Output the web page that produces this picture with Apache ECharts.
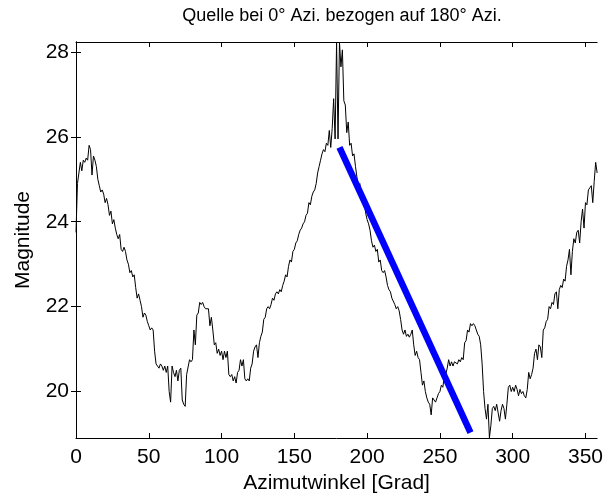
<!DOCTYPE html>
<html><head><meta charset="utf-8">
<script src="https://cdn.jsdelivr.net/npm/echarts@6/dist/echarts.min.js"></script>
<style>html,body{margin:0;padding:0;background:#fff}#c{width:606px;height:499px}</style>
</head><body><div id="c"></div><script>
const titleText = 'Quelle bei 0° Azi. bezogen auf 180° Azi.';
const xName = 'Azimutwinkel [Grad]';
const yName = 'Magnitude';
const xTicks = [0, 50, 100, 150, 200, 250, 300, 350];
const yTicks = [20, 22, 24, 26, 28];
const xRange = [0, 358];
const yRange = [18.905, 28.235];
const azimuth = [
0,1,2,3,4,5,6,7,8,9,10,11,12,13,14,15,16,17,18,19,20,21,22,23,24,25,26,27,28,29,
30,31,32,33,34,35,36,37,38,39,40,41,42,43,44,45,46,47,48,49,50,51,52,53,54,55,56,57,58,59,
60,61,62,63,64,65,66,67,68,69,70,71,72,73,74,75,76,77,78,79,80,81,82,83,84,85,86,87,88,89,
90,91,92,93,94,95,96,97,98,99,100,101,102,103,104,105,106,107,108,109,110,111,112,113,114,115,116,117,118,119,
120,121,122,123,124,125,126,127,128,129,130,131,132,133,134,135,136,137,138,139,140,141,142,143,144,145,146,147,148,149,
150,151,152,153,154,155,156,157,158,159,160,161,162,163,164,165,166,167,168,169,170,171,172,173,174,175,176,177,178,179,
180,181,182,183,184,185,186,187,188,189,190,191,192,193,194,195,196,197,198,199,200,201,202,203,204,205,206,207,208,209,
210,211,212,213,214,215,216,217,218,219,220,221,222,223,224,225,226,227,228,229,230,231,232,233,234,235,236,237,238,239,
240,241,242,243,244,245,246,247,248,249,250,251,252,253,254,255,256,257,258,259,260,261,262,263,264,265,266,267,268,269,
270,271,272,273,274,275,276,277,278,279,280,281,282,283,284,285,286,287,288,289,290,291,292,293,294,295,296,297,298,299,
300,301,302,303,304,305,306,307,308,309,310,311,312,313,314,315,316,317,318,319,320,321,322,323,324,325,326,327,328,329,
330,331,332,333,334,335,336,337,338,339,340,341,342,343,344,345,346,347,348,349,350,351,352,353,354,355,356,357,358];
const magnitude = [
23.75,24.9,25.15,25.4,25.2,25.45,25.4,25.5,25.45,25.8,
25.7,25.1,25.55,25.45,25.3,25.0,24.85,24.7,24.75,24.65,
24.45,24.55,24.4,24.15,24.25,23.95,24.05,23.85,23.7,23.6,
23.7,23.35,23.3,23.4,23.3,23.1,23.0,22.8,22.85,22.7,
22.75,22.45,22.2,22.3,22.15,22.0,21.75,21.85,21.8,21.65,
21.55,21.45,21.5,21.45,20.95,20.65,20.6,20.55,20.65,20.6,
20.5,20.6,20.45,20.6,20.0,19.75,20.6,20.45,20.35,20.5,
20.25,20.5,20.55,19.8,19.7,19.65,20.4,20.4,20.75,20.7,
20.75,21.45,21.1,21.8,21.85,22.1,22.05,22.1,22.0,21.95,
21.98,21.95,21.55,21.75,21.45,21.1,21.15,20.9,21.0,20.85,
20.95,20.75,20.95,20.8,20.95,20.4,20.35,20.4,20.25,20.35,
20.2,20.45,20.5,20.75,20.6,20.75,20.3,20.25,20.3,20.25,
20.55,20.65,20.95,21.05,21.1,20.8,21.15,21.3,21.4,21.7,
21.75,21.95,22.0,21.95,22.05,22.2,22.15,22.3,22.35,22.3,
22.4,22.35,22.5,22.6,22.75,22.7,22.95,23.1,23.05,23.3,
23.35,23.5,23.55,23.7,23.8,23.85,23.95,24.0,24.15,24.2,
24.45,24.4,24.6,24.7,24.75,24.9,25.15,25.3,25.45,25.6,
25.7,25.65,25.85,25.8,26.15,25.75,26.2,26.9,25.95,28.23,
25.95,28.23,27.65,28.05,26.85,26.75,26.1,26.35,25.8,25.85,
25.55,25.6,25.3,25.05,24.85,24.9,24.6,24.45,24.5,24.2,
24.05,23.95,23.8,23.55,23.4,23.45,23.3,23.35,23.05,23.1,
22.85,22.8,22.85,22.7,22.5,22.4,22.35,22.2,22.2,22.05,
21.95,22.0,21.9,21.7,21.45,21.35,21.45,21.3,21.35,21.28,
21.35,21.45,21.1,20.85,20.95,20.8,20.75,20.45,20.15,20.25,
20.0,19.85,19.75,19.7,19.45,19.85,19.8,19.75,19.85,19.95,
20.0,20.15,20.1,20.35,20.4,20.55,20.75,20.6,20.7,20.6,
20.7,20.7,20.65,20.75,20.7,20.8,20.75,21.15,21.2,21.45,
21.4,21.6,21.55,21.6,21.55,21.45,21.35,21.3,21.1,20.65,
20.0,19.6,19.35,19.7,18.91,19.2,19.6,19.65,19.55,19.7,
19.5,19.3,19.55,19.7,19.6,19.35,19.7,20.1,20.15,20.0,
20.1,20.0,20.15,20.05,19.9,20.05,19.95,20.0,19.9,19.85,
20.05,20.45,20.3,20.4,20.55,20.9,21.0,20.75,21.1,21.05,
20.8,21.45,21.5,21.65,21.7,22.0,21.95,22.1,22.05,22.3,
22.35,21.95,22.4,22.5,22.45,22.65,22.6,22.95,23.1,23.35,
22.75,23.3,23.6,23.5,23.75,23.8,23.5,24.0,24.3,23.85,
24.45,24.4,24.75,24.8,24.85,24.45,24.95,25.4,25.15];
const fitX = [181, 271];
const fitY = [25.75, 19.03];

const FONT = 'Liberation Sans, Arial, Helvetica, sans-serif';
const chart = echarts.init(document.getElementById('c'), null, {renderer: 'canvas'});
const axisLine = {show: true, lineStyle: {color: '#000', width: 1}};
const tickIn = (vals) => ({show: true, inside: true, length: 5, lineStyle: {color: '#000', width: 1}, customValues: vals});
chart.setOption({
  animation: false,
  backgroundColor: '#fff',
  title: {text: titleText, left: 337, top: 2, textAlign: 'center',
    textStyle: {fontFamily: FONT, fontSize: 18, fontWeight: 'normal', color: '#000'}},
  grid: {left: 76, top: 42, width: 522, height: 397, show: false},
  xAxis: [
    {type: 'value', min: xRange[0], max: xRange[1], position: 'bottom',
     axisLine, axisTick: tickIn(xTicks), splitLine: {show: false},
     axisLabel: {customValues: xTicks, margin: 9, fontFamily: FONT, fontSize: 21, color: '#000'},
     name: xName, nameLocation: 'middle', nameGap: 35,
     nameTextStyle: {fontFamily: FONT, fontSize: 21, color: '#000'}},
    {type: 'value', min: xRange[0], max: xRange[1], position: 'top',
     axisLine, axisTick: tickIn(xTicks), axisLabel: {show: false}, splitLine: {show: false}}
  ],
  yAxis: [
    {type: 'value', min: yRange[0], max: yRange[1], position: 'left',
     axisLine, axisTick: tickIn(yTicks), splitLine: {show: false},
     axisLabel: {customValues: yTicks, margin: 7, fontFamily: FONT, fontSize: 21, color: '#000'},
     name: yName, nameLocation: 'middle', nameGap: 42, nameRotate: 90,
     nameTextStyle: {fontFamily: FONT, fontSize: 21, color: '#000'}},
    {type: 'value', min: yRange[0], max: yRange[1], position: 'right',
     axisLine, axisTick: tickIn(yTicks), axisLabel: {show: false}, splitLine: {show: false}}
  ],
  series: [
    {type: 'line', data: azimuth.map((a, i) => [a, magnitude[i]]), showSymbol: false, symbol: 'none',
     lineStyle: {color: '#000', width: 1}, silent: true, z: 2},
    {type: 'line', data: fitX.map((a, i) => [a, fitY[i]]), showSymbol: false, symbol: 'none',
     lineStyle: {color: '#0000ff', width: 6.5}, silent: true, z: 3}
  ]
});
</script></body></html>
